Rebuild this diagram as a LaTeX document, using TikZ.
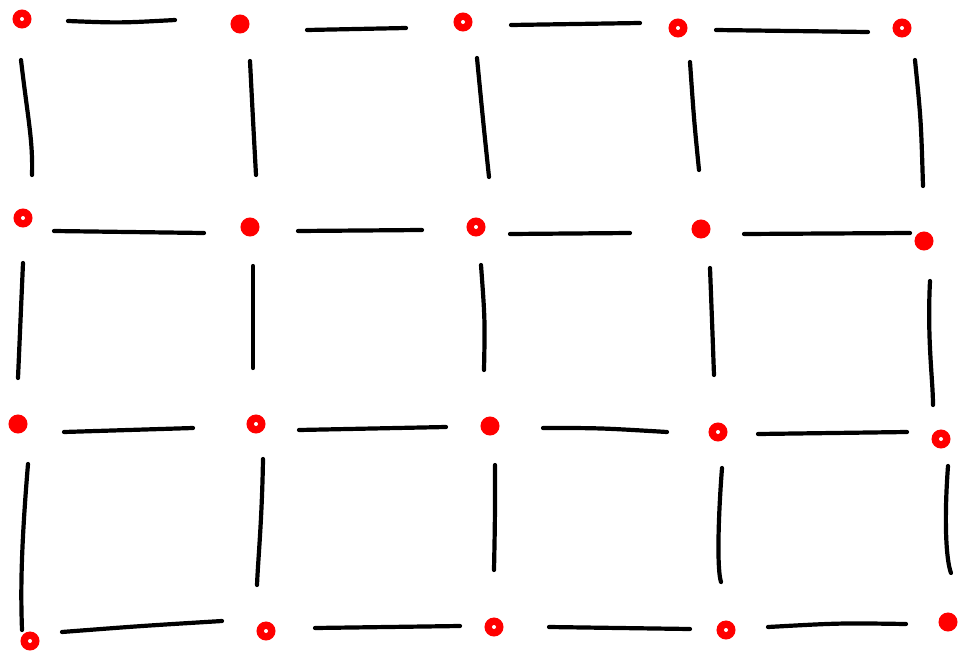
\documentclass[tikz,border=0pt]{standalone}
\begin{document}
\begin{tikzpicture}[x=1pt,y=-1pt,
  dot/.style={circle,fill=red,draw=red,line width=1pt,inner sep=0pt,minimum size=18pt},
  hole/.style={circle,fill=white,inner sep=0pt,minimum size=4pt},
  stroke/.style={line width=4.2pt,line cap=round,black}]
\useasboundingbox (0,0) rectangle (959,651);
% dots
\foreach \n/\x/\y/\h in {
 d11/22/19/1, d12/240/24/0, d13/463/22/1, d14/678/28/1, d15/902/28/1,
 d21/23/218/1, d22/250/227/0, d23/476/227/1, d24/701/229/0, d25/924/241/0,
 d31/18/424/0, d32/256/424/1, d33/490/426/0, d34/718/432/1, d35/941/439/1,
 d41/30/641/1, d42/266/631/1, d43/494/627/1, d44/726/630/1, d45/948/622/0}{
  \node[dot] (\n) at (\x,\y) {};
  \ifnum\h=1 \node[hole] at (\n) {};\fi
}
% horizontal strokes
\draw[stroke] (68,21) .. controls (120,23) .. (175,20);
\draw[stroke] (307,30) -- (406,28);
\draw[stroke] (511,25) -- (640,23);
\draw[stroke] (716,30) -- (868,32);
\draw[stroke] (54,231) -- (204,233);
\draw[stroke] (298,231) -- (422,230);
\draw[stroke] (510,234) -- (630,233);
\draw[stroke] (744,234) -- (910,233);
\draw[stroke] (64,432) -- (193,428);
\draw[stroke] (299,430) -- (446,427);
\draw[stroke] (543,428) .. controls (600,428) .. (667,432);
\draw[stroke] (758,434) -- (907,432);
\draw[stroke] (62,632) .. controls (140,626) .. (222,621);
\draw[stroke] (315,628) -- (460,626);
\draw[stroke] (549,627) -- (690,629);
\draw[stroke] (768,627) .. controls (840,623) .. (906,624);
% vertical strokes
\draw[stroke] (21,60) .. controls (28,120) and (33,140) .. (32,175);
\draw[stroke] (250,61) .. controls (253,120) .. (256,175);
\draw[stroke] (477,58) .. controls (483,120) .. (489,177);
\draw[stroke] (690,62) .. controls (694,120) .. (699,170);
\draw[stroke] (915,60) .. controls (921,120) .. (923,186);
\draw[stroke] (23,263) -- (18,378);
\draw[stroke] (253,266) -- (253,368);
\draw[stroke] (481,265) .. controls (485,320) .. (484,370);
\draw[stroke] (710,268) .. controls (712,320) .. (714,375);
\draw[stroke] (930,281) .. controls (927,340) and (933,380) .. (933,405);
\draw[stroke] (28,464) .. controls (20,560) and (21,600) .. (22,630);
\draw[stroke] (263,459) .. controls (262,520) and (258,560) .. (257,585);
\draw[stroke] (495,465) .. controls (495,520) .. (494,570);
\draw[stroke] (722,468) .. controls (718,520) and (717,570) .. (721,582);
\draw[stroke] (948,466) .. controls (944,520) and (946,560) .. (951,573);
\end{tikzpicture}
\end{document}
